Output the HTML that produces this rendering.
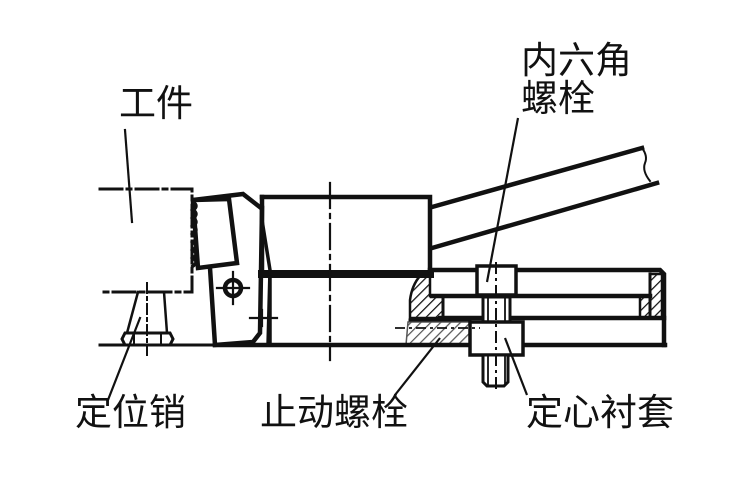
<!DOCTYPE html>
<html><head><meta charset="utf-8"><style>
html,body{margin:0;padding:0;background:#fff;}
svg{display:block}
text{font-family:"Liberation Sans","Noto Sans CJK SC",sans-serif;font-size:37px;fill:#111}
</style></head><body>
<svg width="750" height="484" viewBox="0 0 750 484" xmlns="http://www.w3.org/2000/svg">
<defs>
<pattern id="h" width="7" height="7" patternUnits="userSpaceOnUse" patternTransform="rotate(45)">
<line x1="0" y1="0" x2="0" y2="7" stroke="#111" stroke-width="2.5"/></pattern>
</defs>
<g fill="none" stroke="#111" stroke-linecap="square">
<path d="M100 189H192V292H100" stroke-width="3" stroke-dasharray="22 5 4 5"/>
<line x1="125" y1="130" x2="132" y2="222" stroke-width="2.2"/>
<line x1="100" y1="345" x2="215" y2="345" stroke-width="3"/>
<path d="M138 292L127 333M164 292L167 333" stroke-width="2.5"/>
<path d="M125 333H170L173 339L170 345H125L122 339Z" stroke-width="3"/>
<path d="M134 333V345M161 333V345" stroke-width="2"/>
<line x1="147" y1="283" x2="147" y2="355" stroke-width="2" stroke-dasharray="10 4 3 4"/>
<line x1="140" y1="318" x2="108" y2="400" stroke-width="2.2"/>
<path d="M193 200L243 194L261 208" stroke-width="4.5"/>
<path d="M193 200L229 199L237 263L198 268Z" stroke-width="4.5"/>
<path d="M193 202q6 4 0 8q6 4 0 8q6 4 0 8q6 4 0 8q6 4 0 8q6 4 0 8q6 4 0 8q6 4 0 8" stroke-width="3.5"/>
<path d="M210 268L215 345L253 342L260 333L262 208" stroke-width="4.5"/>
<path d="M262 220L270 270L268 345" stroke-width="3.5"/>
<circle cx="233" cy="288" r="8" stroke-width="4.5"/>
<path d="M233 272V304M217 288H249" stroke-width="2.2"/>
<path d="M250 318H277M262 310V326" stroke-width="2.2"/>
<path d="M262 197H430V270" stroke-width="4.5"/>
<path d="M262 197V270" stroke-width="4.5"/>
<line x1="262" y1="274" x2="430" y2="274" stroke-width="8"/>
<path d="M270 277V345" stroke-width="3.5"/>
<line x1="215" y1="345" x2="665" y2="345" stroke-width="4.5"/>
<line x1="330" y1="183" x2="330" y2="360" stroke-width="2.2" stroke-dasharray="25 6 4 6"/>
<path d="M432 207L642 148M432 248L657 183" stroke-width="4.5"/>
<path d="M642 148q6 8 3 15q-3 8 5 18" stroke-width="2"/>
<path d="M430 270H660L664 274V345" stroke-width="4.5"/>
<path d="M432 296H650" stroke-width="4.5"/>
<path d="M440 318H664" stroke-width="4.5"/>
<path d="M410 320H470" stroke-width="3"/>
<path d="M650 274V318" stroke-width="3"/>
<path d="M443 296V318" stroke-width="3"/>
</g>
<path d="M420 276H430V296H443V318H410L410 300Q412 285 420 276Z" fill="url(#h)" stroke="#111" stroke-width="2.5"/>
<path d="M650 274H662V318H640V296H650Z" fill="url(#h)" stroke="#111" stroke-width="2.5"/>
<path d="M408 322H470V345H406Z" fill="url(#h)" stroke="#111" stroke-width="1.5" opacity="0.7"/>
<g fill="#fff" stroke="#111">
<path d="M477 266H516V295H477Z" stroke-width="3.5"/>
<path d="M483 297H510V322H483Z" stroke-width="3"/>
<path d="M470 322H523V355H470Z" stroke-width="3.5"/>
<path d="M483 355H508V382L504 386H487L483 382Z" stroke-width="3"/>
</g>
<g fill="none" stroke="#111">
<path d="M488 297V322M505 297V322M488 355V386M505 355V386" stroke-width="1.8"/>
<line x1="496" y1="262" x2="496" y2="392" stroke-width="2" stroke-dasharray="12 4 3 4"/>
<line x1="395" y1="328" x2="480" y2="328" stroke-width="1.8" stroke-dasharray="10 4 3 4"/>
<line x1="518" y1="118" x2="487" y2="282" stroke-width="2.2"/>
<line x1="395" y1="395" x2="440" y2="338" stroke-width="2.2"/>
<line x1="527" y1="395" x2="505" y2="338" stroke-width="2.2"/>
</g>
<text x="119" y="116">工件</text>
<text x="521" y="73">内六角</text>
<text x="521" y="111">螺栓</text>
<text x="75" y="425">定位销</text>
<text x="260" y="425">止动螺栓</text>
<text x="526" y="425">定心衬套</text>
</svg>
</body></html>
